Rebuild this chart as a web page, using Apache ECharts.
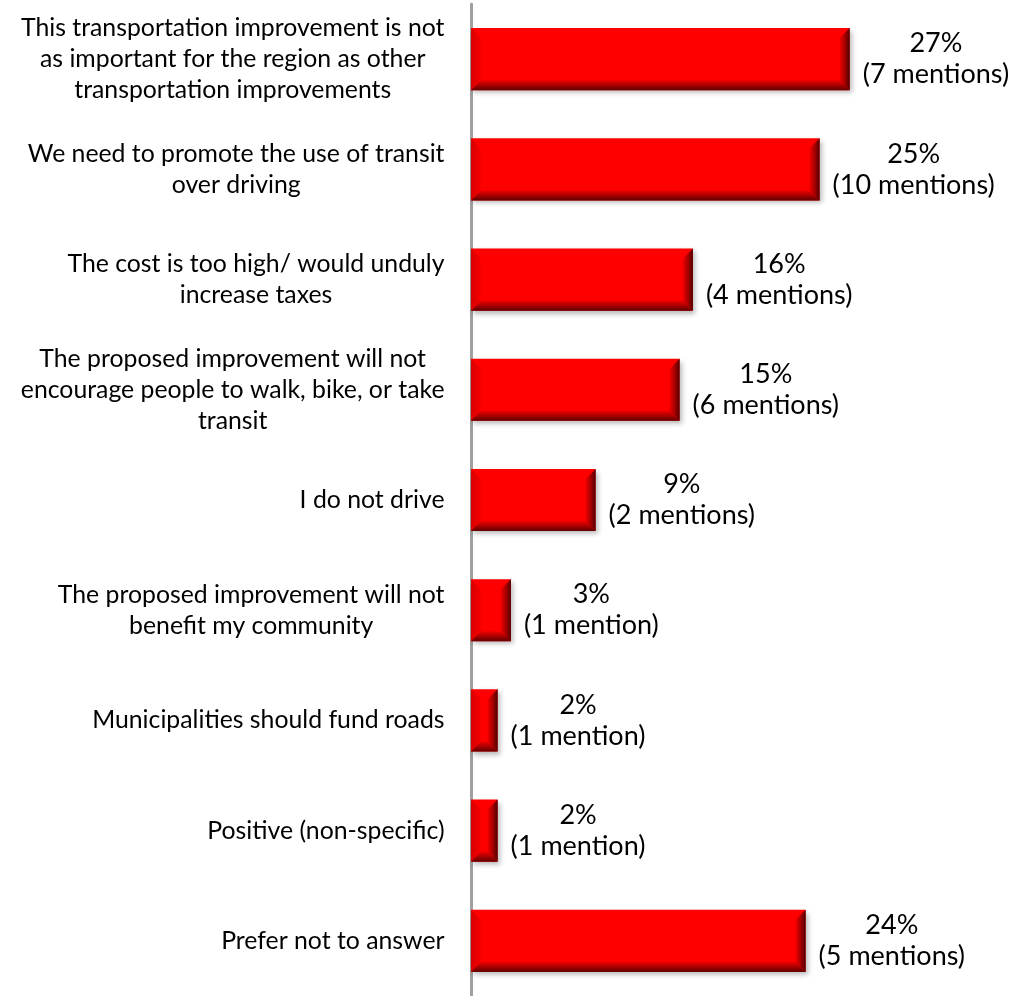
<!DOCTYPE html>
<html>
<head>
<meta charset="utf-8">
<script src="https://cdn.jsdelivr.net/npm/echarts@6/dist/echarts.min.js"></script>
<style>
html,body{margin:0;padding:0;background:#fff;}
#chart{width:1029px;height:996px;}
</style>
</head>
<body>
<div id="chart"></div>
<script>
const categories = [
  "This transportation improvement is not\nas important for the region as other\ntransportation improvements",
  "We need to promote the use of transit\nover driving",
  "The cost is too high/ would unduly\nincrease taxes",
  "The proposed improvement will not\nencourage people to walk, bike, or take\ntransit",
  "I do not drive",
  "The proposed improvement will not\nbenefit my community",
  "Municipalities should fund roads",
  "Positive (non-specific)",
  "Prefer not to answer"
];
const values = [27.05, 24.9, 15.85, 14.9, 8.9, 2.85, 1.9, 1.9, 23.9];
const pctLabels = ["27%", "25%", "16%", "15%", "9%", "3%", "2%", "2%", "24%"];
const mentionLabels = ["(7 mentions)", "(10 mentions)", "(4 mentions)", "(6 mentions)", "(2 mentions)", "(1 mention)", "(1 mention)", "(1 mention)", "(5 mentions)"];

const FONT = "Lato";
const BAR_RATIO = 0.564;

const chart = echarts.init(document.getElementById('chart'));

function bevel(params, api) {
  const v = api.value(0);
  const idx = api.value(1);
  const p0 = api.coord([0, idx]);
  const p1 = api.coord([v, idx]);
  const h = api.size([0, 1])[1] * BAR_RATIO;
  const x0 = p0[0], x1 = p1[0];
  const yT = p0[1] - h / 2, yB = p0[1] + h / 2;
  const b = Math.min(10, (x1 - x0) / 2);
  const G = echarts.graphic.LinearGradient;
  return {
    type: 'group',
    children: [
      { type: 'polygon', shape: { points: [[x0, yT], [x0 + b, yT + b], [x0 + b, yB - b], [x0, yB]] },
        style: { fill: new G(0, 0, 1, 0, [{offset: 0, color: '#d80000'}, {offset: 1, color: '#f50000'}]) } },
      { type: 'polygon', shape: { points: [[x0, yB], [x1, yB], [x1 - b, yB - b], [x0 + b, yB - b]] },
        style: { fill: new G(0, 0, 0, 1, [{offset: 0, color: '#ee0000'}, {offset: 0.5, color: '#a80000'}, {offset: 1, color: '#600000'}]) } },
      { type: 'polygon', shape: { points: [[x1, yT], [x1, yB], [x1 - b, yB - b], [x1 - b, yT + b]] },
        style: { fill: new G(0, 0, 1, 0, [{offset: 0, color: '#ee0000'}, {offset: 0.5, color: '#a80000'}, {offset: 1, color: '#500000'}]) } }
    ]
  };
}

chart.setOption({
  animation: false,
  backgroundColor: '#ffffff',
  grid: { left: 471, top: 4, width: 532, height: 997, containLabel: false },
  xAxis: {
    type: 'value', min: 0, max: 38, show: false
  },
  yAxis: {
    type: 'category',
    inverse: true,
    data: categories,
    offset: 1.5,
    axisLine: { show: true, lineStyle: { color: '#a0a0a0', width: 3 } },
    axisTick: { show: false },
    splitLine: { show: false },
    axisLabel: {
      margin: 25,
      align: 'right',
      formatter: function (val) {
        return val.split('\n').map(s => '{c|' + s + '}').join('\n');
      },
      rich: {
        c: { align: 'center', fontFamily: FONT, fontSize: 24.8, lineHeight: 31, color: '#000' }
      }
    }
  },
  series: [
    {
      type: 'bar',
      data: values,
      barWidth: (BAR_RATIO * 100) + '%',
      itemStyle: {
        color: '#ff0000',
        shadowColor: 'rgba(0,0,0,0.28)',
        shadowBlur: 5,
        shadowOffsetX: 2,
        shadowOffsetY: 3
      },
      label: {
        show: true,
        position: 'right',
        distance: 13,
        formatter: function (p) {
          return '{a|' + pctLabels[p.dataIndex] + '}\n{a|' + mentionLabels[p.dataIndex] + '}';
        },
        rich: {
          a: { align: 'center', fontFamily: FONT, fontSize: 27, lineHeight: 31, color: '#000' }
        }
      },
      z: 2
    },
    {
      type: 'custom',
      renderItem: bevel,
      data: values.map((v, i) => [v, i]),
      encode: { x: 0, y: 1 },
      silent: true,
      z: 3
    }
  ]
});
</script>
</body>
</html>
